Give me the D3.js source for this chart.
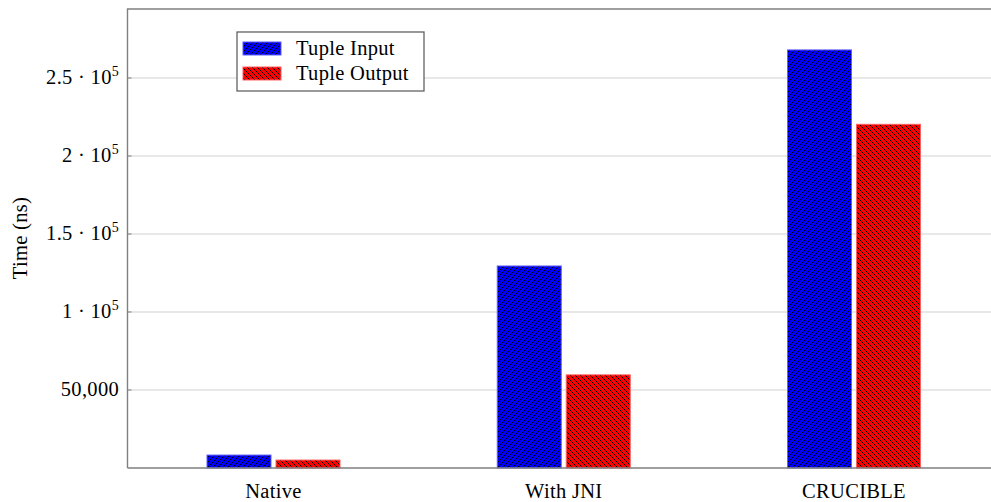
<!DOCTYPE html>
<html>
<head>
<meta charset="utf-8">
<script src="https://cdn.jsdelivr.net/npm/d3@7"></script>
<style>
body{margin:0;background:#fff;}
svg{display:block;font-family:"Liberation Serif","DejaVu Serif",serif;}
</style>
</head>
<body>
<svg id="chart" width="991" height="502"></svg>
<script>
const categories = ["Native", "With JNI", "CRUCIBLE"];
const seriesNames = ["Tuple Input", "Tuple Output"];
const tupleInput = [8300, 129500, 268000];
const tupleOutput = [5100, 59700, 220300];
const yTicks = [50000, 100000, 150000, 200000, 250000];
const yTickLabels = [["50,000", null], ["1 · 10", "5"], ["1.5 · 10", "5"], ["2 · 10", "5"], ["2.5 · 10", "5"]];

const svg = d3.select("#chart");
const margin = {left: 127.5, top: 9, right: 1001, bottom: 468};
const x = d3.scalePoint().domain(categories).range([273.5, 854]);
const y = d3.scaleLinear().domain([0, 294230]).range([margin.bottom, margin.top]);
const FS = 20.5, LS = 0.3;

const defs = svg.append("defs");
function pattern(id, color, dir) {
  const p = defs.append("pattern").attr("id", id).attr("patternUnits", "userSpaceOnUse")
    .attr("width", 5).attr("height", 5);
  p.append("rect").attr("width", 5).attr("height", 5).attr("fill", color);
  const d = dir === "ne" ? "M-1,1 L1,-1 M0,5 L5,0 M4,6 L6,4" : "M-1,4 L1,6 M0,0 L5,5 M4,-1 L6,1";
  p.append("path").attr("d", d).attr("stroke", "#000").attr("stroke-width", 1);
}
pattern("pBlue", "#0000ff", "ne");
pattern("pRed", "#ff0000", "nw");

// grid
svg.append("g").selectAll("line").data(yTicks).join("line")
  .attr("x1", margin.left).attr("x2", margin.right)
  .attr("y1", d => y(d)).attr("y2", d => y(d))
  .attr("stroke", "#d0d0d0").attr("stroke-width", 1);

// bars
const bw = 64;
const series = [
  {values: tupleInput, fill: "url(#pBlue)", stroke: "#6060ff", off: -2.5 - bw},
  {values: tupleOutput, fill: "url(#pRed)", stroke: "#ff6060", off: 2.5}
];
series.forEach(s => {
  svg.append("g").selectAll("rect").data(categories).join("rect")
    .attr("x", d => x(d) + s.off)
    .attr("y", (d, i) => y(s.values[i]))
    .attr("width", bw)
    .attr("height", (d, i) => y(0) - y(s.values[i]))
    .attr("fill", s.fill).attr("stroke", s.stroke).attr("stroke-width", 1);
});

// axes frame
svg.append("path")
  .attr("d", `M${margin.left},${margin.bottom} L${margin.left},${margin.top} L${margin.right},${margin.top} M${margin.left},${margin.bottom} L${margin.right},${margin.bottom}`)
  .attr("fill", "none").attr("stroke", "#808080").attr("stroke-width", 1.4);

// y tick marks
svg.append("g").selectAll("line").data(yTicks).join("line")
  .attr("x1", margin.left).attr("x2", margin.left + 4)
  .attr("y1", d => y(d)).attr("y2", d => y(d))
  .attr("stroke", "#808080").attr("stroke-width", 1);

// y tick labels
const yl = svg.append("g").selectAll("text").data(yTicks).join("text")
  .attr("x", 119).attr("y", d => y(d) + 6.5)
  .attr("text-anchor", "end").attr("font-size", FS).attr("letter-spacing", LS).attr("fill", "#000");
yl.each(function(d, i) {
  const t = d3.select(this);
  const [base, sup] = yTickLabels[i];
  t.append("tspan").text(base);
  if (sup) t.append("tspan").attr("font-size", 14).attr("dy", -8).text(sup);
});

// x labels
svg.append("g").selectAll("text").data(categories).join("text")
  .attr("x", d => x(d)).attr("y", 498)
  .attr("text-anchor", "middle").attr("font-size", FS).attr("letter-spacing", LS).attr("fill", "#000")
  .text(d => d);

// y title
svg.append("text").attr("transform", "translate(27,238) rotate(-90)")
  .attr("text-anchor", "middle").attr("font-size", FS).attr("letter-spacing", LS).text("Time (ns)");

// legend
const lg = svg.append("g");
lg.append("rect").attr("x", 237).attr("y", 32).attr("width", 187).attr("height", 59)
  .attr("fill", "#fff").attr("stroke", "#555").attr("stroke-width", 1.2);
const fills = ["url(#pBlue)", "url(#pRed)"];
const strokes = ["#6060ff", "#ff6060"];
seriesNames.forEach((n, i) => {
  lg.append("rect").attr("x", 243).attr("y", 42 + i * 25).attr("width", 38).attr("height", 13)
    .attr("fill", fills[i]).attr("stroke", strokes[i]).attr("stroke-width", 1);
  lg.append("text").attr("x", 296).attr("y", 55 + i * 25).attr("font-size", FS).attr("letter-spacing", LS).text(n);
});
</script>
</body>
</html>
